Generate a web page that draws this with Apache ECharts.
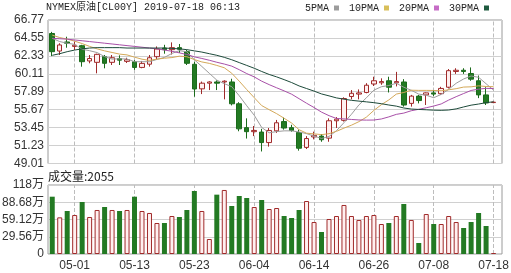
<!DOCTYPE html>
<html><head><meta charset="utf-8">
<script src="https://cdn.jsdelivr.net/npm/echarts@6/dist/echarts.min.js"></script>
<style>html,body{margin:0;padding:0;background:#fff}#c{width:511px;height:273px}</style>
</head><body><div id="c"></div>
<script>
const dates = ['04-26','04-29','04-30','05-01','05-02','05-03','05-06','05-07','05-08','05-09','05-10','05-13','05-14','05-15','05-16','05-17','05-20','05-21','05-22','05-23','05-24','05-27','05-28','05-29','05-30','05-31','06-03','06-04','06-05','06-06','06-07','06-10','06-11','06-12','06-13','06-14','06-17','06-18','06-19','06-20','06-21','06-24','06-25','06-26','06-27','06-28','07-01','07-02','07-03','07-04','07-05','07-08','07-09','07-10','07-11','07-12','07-15','07-16','07-17','07-18'];
const tickDates = ['05-01','05-13','05-23','06-04','06-14','06-26','07-08','07-18'];

const open  = [65.1,62.93,64.05,63.5,63.59,61.7,61.53,62.23,61.53,62.0,61.65,61.6,60.9,61.3,62.23,63.3,63.1,63.35,62.85,61.29,58.25,58.95,59.1,59.1,59.1,56.4,53.45,52.95,52.9,51.6,53.05,54.2,53.45,52.85,51.0,52.3,52.4,52.15,54.3,54.35,57.3,57.6,57.8,58.85,59.0,59.25,59.0,59.1,56.45,57.35,57.5,57.75,57.65,58.45,60.4,60.55,60.15,59.25,57.5,56.55];
const close = [62.85,63.68,63.9,63.65,61.61,62.0,62.52,61.41,62.1,61.8,61.85,60.9,61.4,62.1,63.18,63.1,63.35,63.15,61.41,58.23,58.95,59.1,58.95,59.2,56.4,53.3,52.95,53.1,51.6,53.1,54.05,53.4,53.1,50.9,52.1,52.5,51.95,54.3,54.5,57.05,57.7,57.75,58.7,59.25,59.15,58.45,59.15,56.25,57.35,56.8,57.75,57.6,58.3,60.5,60.55,60.4,59.45,57.5,56.5,56.6];
const low   = [62.3,62.44,63.34,63.06,60.99,61.41,60.17,60.79,61.2,61.2,61.45,60.6,60.8,61.0,61.9,62.6,62.5,62.7,61.2,57.28,57.6,58.1,58.1,56.95,56.2,53.0,52.1,52.4,50.5,51.1,52.8,53.2,52.95,50.6,50.8,52.0,51.7,51.7,53.4,54.2,56.95,56.95,57.7,58.6,58.75,57.8,58.55,56.05,56.05,56.45,56.25,57.36,57.5,58.3,60.1,60.1,59.25,57.1,56.25,56.5];
const high  = [65.3,63.89,64.7,64.08,63.7,62.44,62.6,62.44,62.44,62.4,62.1,61.8,61.7,62.44,63.5,63.7,64.0,63.8,63.06,61.61,59.15,59.2,59.3,59.3,59.5,56.6,54.6,53.65,53.3,53.4,54.4,54.7,53.8,53.2,52.4,52.95,52.65,54.6,54.75,57.2,58.1,58.18,58.95,59.75,59.55,59.75,60.35,59.45,57.5,57.5,57.8,58.1,58.5,60.7,60.8,60.8,60.9,59.9,58.45,56.65];

const ma5  = [64.5,64.1,63.9,63.75,63.14,62.97,62.74,62.24,61.93,61.97,61.94,61.61,61.61,61.61,61.89,62.14,62.63,62.98,62.84,61.85,61.02,60.17,59.33,58.89,58.52,57.39,56.16,54.99,53.47,52.81,52.96,53.05,53.05,52.91,52.71,52.4,52.11,52.35,53.07,54.06,55.1,56.26,57.14,58.09,58.51,58.66,58.94,58.45,58.07,57.6,57.46,57.15,57.56,58.19,58.94,59.47,59.84,59.68,58.88,58.09];
const ma10 = [64.9,64.6,64.4,64.15,63.85,63.5,63.2,62.95,62.75,62.55,62.45,62.17,61.92,61.77,61.93,62.04,62.12,62.29,62.22,61.87,61.58,61.4,61.15,60.86,60.18,59.2,58.16,57.16,56.18,55.67,55.18,54.61,54.02,53.19,52.76,52.68,52.58,52.7,52.99,53.39,53.75,54.19,54.75,55.58,56.29,56.88,57.6,57.8,58.08,58.06,58.06,58.05,58.01,58.13,58.27,58.47,58.5,58.62,58.54,58.52];
const ma20 = [64.5,64.45,64.4,64.3,64.2,64.1,64.0,63.9,63.8,63.7,63.6,63.5,63.4,63.3,63.2,63.05,62.9,62.7,62.5,62.21,62.01,61.79,61.54,61.32,61.06,60.62,60.14,59.73,59.2,58.77,58.38,58.0,57.59,57.03,56.47,55.94,55.37,54.93,54.58,54.53,54.46,54.4,54.38,54.39,54.52,54.78,55.09,55.25,55.54,55.72,55.91,56.12,56.38,56.86,57.28,57.67,58.05,58.21,58.31,58.29];
const ma30 = [62.4,62.6,62.85,63.05,63.2,63.3,63.35,63.35,63.35,63.35,63.3,63.3,63.3,63.3,63.3,63.3,63.25,63.2,63.1,62.95,62.8,62.6,62.4,62.15,61.85,61.5,61.15,60.8,60.4,60.03,59.73,59.39,59.03,58.61,58.29,57.97,57.62,57.38,57.13,56.97,56.83,56.73,56.64,56.54,56.41,56.25,56.11,55.88,55.75,55.7,55.66,55.61,55.59,55.63,55.77,56.01,56.23,56.37,56.54,56.65];

// volume in 万
const volume = [98.2,62.8,73.7,66.8,89.1,63.4,75.4,80.5,75.4,73.7,75.4,98.2,73.7,70.3,53.1,53.1,65.1,63.4,75.4,108.0,73.7,25.7,101.7,109.7,82.3,99.4,96.0,80.5,92.5,77.1,78.8,65.1,61.7,75.4,90.8,54.8,37.7,60.0,65.1,84.0,65.1,58.3,65.1,66.8,51.4,53.1,65.1,85.7,58.3,18.9,68.5,51.4,51.4,65.1,54.8,44.6,54.8,70.3,48.0,0.2055];

const priceTicks = [49.01,51.23,53.45,55.67,57.89,60.11,62.33,64.55,66.77];
const volTicks = [0,29.56,59.12,88.68,118.24];
const volTickLabels = ['0','29.56万','59.12万','88.68万','118万'];

const UP_FILL = '#fff0f0', UP_LINE = '#a02a2a', DN_FILL = '#237a23', DN_LINE = '#1b6b1b';
const MONO = '"Liberation Mono","Noto Sans CJK SC",monospace';
const SANS = '"Liberation Sans","Noto Sans CJK SC",sans-serif';

const chart = echarts.init(document.getElementById('c'), null, {renderer:'canvas'});
const vline = {
  silent: true, z: 1, symbol: ['none','none'], label: {show:false},
  lineStyle: {type:'dashed', color:'#bdbdbd', width:1},
  emphasis: {disabled:true},
  data: tickDates.map(d => ({xAxis: d}))
};
const frameGrid = {show:true, borderColor:'#9a9a9a', borderWidth:1, backgroundColor:'#fff', outerBoundsMode:'none'};
chart.setOption({
  animation: false,
  title: {text:'NYMEX原油[CL00Y] 2019-07-18 06:13', left:46, top:2, padding:0,
    textStyle:{fontFamily:MONO, fontSize:10, fontWeight:'normal', color:'#222'}},
  legend: {data:['5PMA','10PMA','20PMA','30PMA'], right:22, top:3, padding:0, align:'right',
    icon:'rect', itemWidth:5, itemHeight:5, itemGap:10,
    textStyle:{fontFamily:MONO, fontSize:10, color:'#222'}},
  graphic: [
    {type:'text', left:406, top:22, z:-10, silent:true, style:{text:'东方财富网', fill:'#d4d4d4', font:'bold 16px "Noto Sans CJK SC"'}},
    {type:'text', left:414, top:38, z:-10, silent:true, style:{text:'eastmoney.com', fill:'#d8d8d8', font:'bold 8px "Liberation Sans"'}},
    {type:'text', left:48, top:170, style:{text:'成交量:' + Math.round(volume[volume.length-1]*10000), fill:'#222', font:'12px "Noto Sans CJK SC"'}}
  ],
  grid: [
    Object.assign({left:48, right:9, top:20, height:143.5}, frameGrid),
    {left:48.5, width:448.8, top:20, height:143.5, outerBoundsMode:'none'},
    Object.assign({left:48, right:9, top:185, height:69}, frameGrid),
    {left:48.5, width:448.8, top:185, height:69, outerBoundsMode:'none'}
  ],
  xAxis: [
    {gridIndex:0, type:'value', min:0, max:1, show:false},
    {gridIndex:1, type:'category', data:dates, show:false},
    {gridIndex:2, type:'value', min:0, max:1, show:false},
    {gridIndex:3, type:'category', data:dates,
      axisLine:{show:false}, axisTick:{show:false}, splitLine:{show:false},
      axisLabel:{interval:(i,v)=>tickDates.includes(v), margin:6, fontFamily:SANS, fontSize:12, color:'#333'}}
  ],
  yAxis: [
    {gridIndex:0, type:'value', min:priceTicks[0], max:priceTicks[priceTicks.length-1],
      axisLine:{show:false}, axisTick:{show:false, customValues:priceTicks},
      axisLabel:{customValues:priceTicks, formatter:v=>v.toFixed(2), margin:4, fontFamily:SANS, fontSize:12, color:'#333'},
      splitLine:{show:true, lineStyle:{color:'#d0d0d0', width:1}}},
    {gridIndex:1, type:'value', min:priceTicks[0], max:priceTicks[priceTicks.length-1], show:false, splitLine:{show:false}},
    {gridIndex:2, type:'value', min:volTicks[0], max:volTicks[volTicks.length-1],
      axisLine:{show:false}, axisTick:{show:false, customValues:volTicks},
      axisLabel:{customValues:volTicks, formatter:v=>{const k=volTicks.findIndex(t=>Math.abs(t-v)<0.01);return k<0?'':volTickLabels[k];}, margin:4, fontFamily:SANS, fontSize:12, color:'#333'},
      splitLine:{show:true, lineStyle:{color:'#d0d0d0', width:1}}},
    {gridIndex:3, type:'value', min:volTicks[0], max:volTicks[volTicks.length-1], show:false, splitLine:{show:false}}
  ],
  series: [
    {type:'candlestick', xAxisIndex:1, yAxisIndex:1, barWidth:5, z:3,
      data: dates.map((d,i)=>[open[i], close[i], low[i], high[i]]),
      itemStyle:{color:UP_FILL, color0:DN_FILL, borderColor:UP_LINE, borderColor0:DN_LINE, borderWidth:1},
      markLine: vline},
    {type:'line', name:'5PMA', xAxisIndex:1, yAxisIndex:1, z:4, data:ma5, symbol:'none', color:'#9c9c9c', lineStyle:{width:1, color:'#9c9c9c'}},
    {type:'line', name:'10PMA', xAxisIndex:1, yAxisIndex:1, z:4, data:ma10, symbol:'none', color:'#d8bf5a', lineStyle:{width:1, color:'#d4a95a'}},
    {type:'line', name:'20PMA', xAxisIndex:1, yAxisIndex:1, z:4, data:ma20, symbol:'none', color:'#c66cc6', lineStyle:{width:1, color:'#a850a8'}},
    {type:'line', name:'30PMA', xAxisIndex:1, yAxisIndex:1, z:4, data:ma30, symbol:'none', color:'#1f5a3f', lineStyle:{width:1, color:'#1d4a3a'}},
    {type:'bar', xAxisIndex:3, yAxisIndex:3, barWidth:5, barMinHeight:1, z:3,
      data: volume.map((v,i)=>({value:v, itemStyle: close[i] >= open[i]
        ? {color:UP_FILL, borderColor:UP_LINE, borderWidth:1}
        : {color:DN_FILL, borderColor:DN_FILL, borderWidth:0}})),
      markLine: vline}
  ]
});
</script>
</body></html>
